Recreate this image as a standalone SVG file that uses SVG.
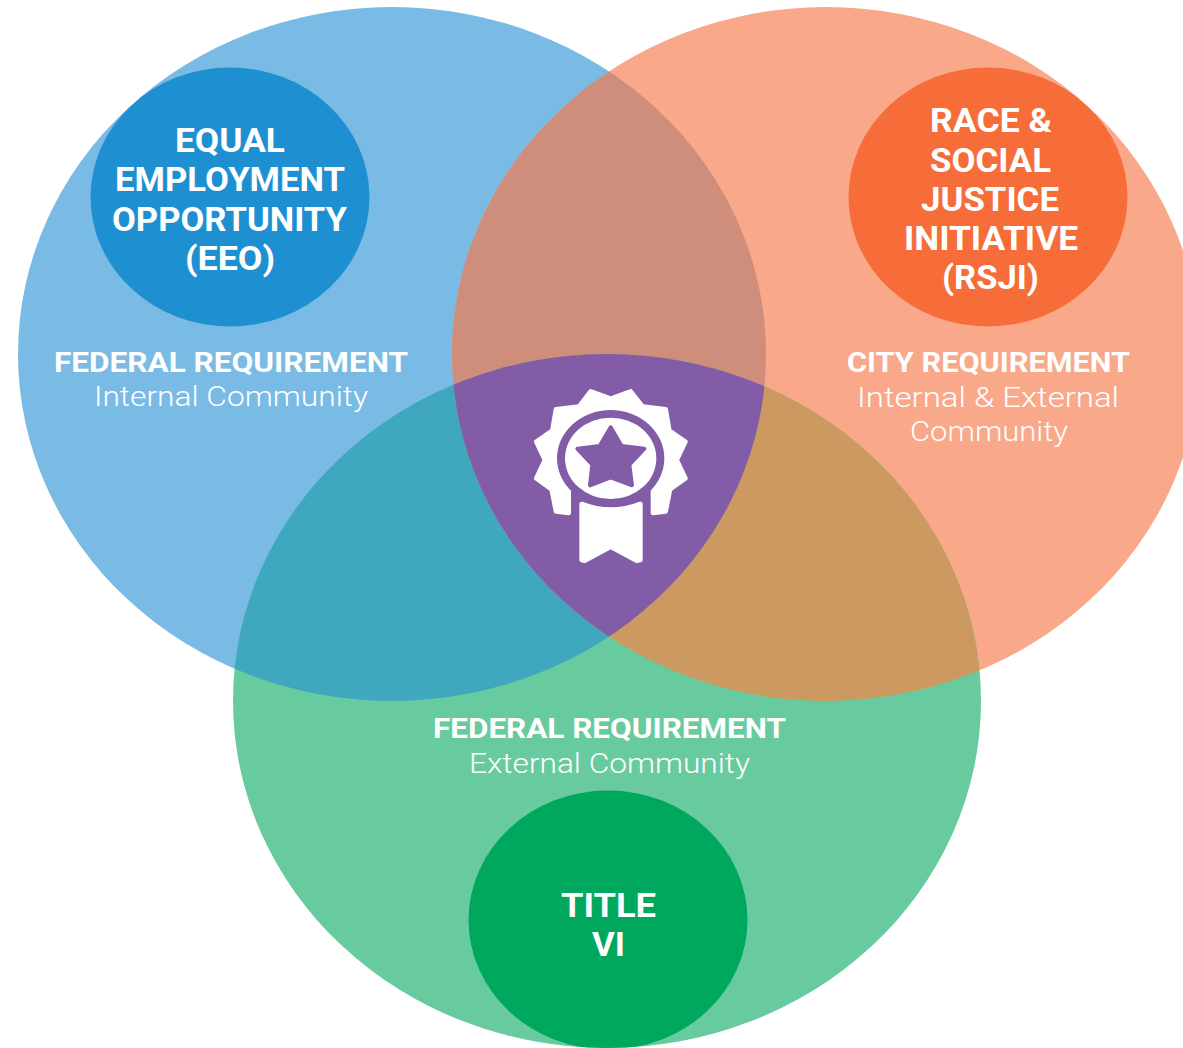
<svg xmlns="http://www.w3.org/2000/svg" width="1183" height="1048" viewBox="0 0 1183 1048">
  <style>
    .t { fill: #fff; text-anchor: start; font-family: Roboto, "Liberation Sans", sans-serif; }
    .h { font-size: 33px; font-weight: 700; }
    .r { font-size: 28px; font-weight: 700; }
    .c { font-size: 27px; font-weight: 300; }
    .p { fill: #825CA6; }
    .w { fill: #fff; stroke: #fff; stroke-width: 14; stroke-linejoin: round; }
  </style>
  <defs>
    <ellipse id="eL" cx="392" cy="354" rx="374" ry="347"/>
    <ellipse id="eR" cx="826" cy="354" rx="374" ry="347"/>
    <ellipse id="eB" cx="607" cy="701" rx="374" ry="347"/>
    <clipPath id="cL"><use href="#eL"/></clipPath>
    <clipPath id="cR"><use href="#eR"/></clipPath>
    <clipPath id="cB"><use href="#eB"/></clipPath>
  </defs>
  <rect width="1183" height="1048" fill="#fff"/>
  <g id="venn">
    <use href="#eL" fill="#79BBE4"/>
    <use href="#eR" fill="#F9A88A"/>
    <use href="#eB" fill="#68CBA0"/>
    <g clip-path="url(#cL)"><use href="#eR" fill="#CF8D7B"/></g>
    <g clip-path="url(#cL)"><use href="#eB" fill="#3FA8BE"/></g>
    <g clip-path="url(#cR)"><use href="#eB" fill="#CC9A60"/></g>
    <g clip-path="url(#cL)"><g clip-path="url(#cR)"><use href="#eB" fill="#825CA6"/></g></g>
  </g>
  <g id="eeo">
    <g clip-path="url(#cL)"><ellipse cx="230" cy="197" rx="139.5" ry="129.5" fill="#1E90D2"/></g>
    <text class="t h" x="175" y="152" textLength="110" lengthAdjust="spacingAndGlyphs">EQUAL</text>
    <text class="t h" x="115" y="191" textLength="230" lengthAdjust="spacingAndGlyphs">EMPLOYMENT</text>
    <text class="t h" x="112" y="231" textLength="235" lengthAdjust="spacingAndGlyphs">OPPORTUNITY</text>
    <text class="t h" x="185" y="270" textLength="90" lengthAdjust="spacingAndGlyphs">(EEO)</text>
    <text class="t r" x="54" y="372" textLength="354" lengthAdjust="spacingAndGlyphs">FEDERAL REQUIREMENT</text>
    <text class="t c" x="94" y="406" textLength="274" lengthAdjust="spacingAndGlyphs">Internal Community</text>
  </g>
  <g id="rsji">
    <g clip-path="url(#cR)"><ellipse cx="988" cy="197" rx="139.5" ry="129.5" fill="#F66D3A"/></g>
    <text class="t h" x="930" y="132" textLength="122" lengthAdjust="spacingAndGlyphs">RACE &amp;</text>
    <text class="t h" x="930" y="172" textLength="121" lengthAdjust="spacingAndGlyphs">SOCIAL</text>
    <text class="t h" x="921" y="211" textLength="138" lengthAdjust="spacingAndGlyphs">JUSTICE</text>
    <text class="t h" x="904" y="250" textLength="174" lengthAdjust="spacingAndGlyphs">INITIATIVE</text>
    <text class="t h" x="942" y="289" textLength="97" lengthAdjust="spacingAndGlyphs">(RSJI)</text>
    <text class="t r" x="847" y="372" textLength="283" lengthAdjust="spacingAndGlyphs">CITY REQUIREMENT</text>
    <text class="t c" x="857" y="407" textLength="262" lengthAdjust="spacingAndGlyphs">Internal &amp; External</text>
    <text class="t c" x="910" y="441" textLength="158" lengthAdjust="spacingAndGlyphs">Community</text>
  </g>
  <g id="title-vi">
    <g clip-path="url(#cB)"><ellipse cx="608" cy="920" rx="139.5" ry="129.5" fill="#00A85E"/></g>
    <text class="t r" x="433" y="738" textLength="353" lengthAdjust="spacingAndGlyphs">FEDERAL REQUIREMENT</text>
    <text class="t c" x="469" y="773" textLength="281" lengthAdjust="spacingAndGlyphs">External Community</text>
    <text class="t h" x="561" y="917" textLength="95" lengthAdjust="spacingAndGlyphs">TITLE</text>
    <text class="t h" x="592" y="956" textLength="33" lengthAdjust="spacingAndGlyphs">VI</text>
  </g>
  <g id="badge" transform="translate(500 370) scale(.33333)">
    <path class="w" d="M272,64 L332,86 L392,64 L428,110 L497,118 L508,182 L556,215 L530,270 L556,325 L510,358 L497,424 L459,429 L459,345 L206,345 L206,429 L168,424 L155,358 L109,325 L135,270 L109,215 L157,182 L168,118 L237,110 Z"/>
    <ellipse class="p" cx="332" cy="265" rx="161" ry="145"/>
    <ellipse cx="332" cy="265" rx="137" ry="122" fill="#fff"/>
    <path class="p" stroke="#825CA6" stroke-width="12" stroke-linejoin="round" d="M332,172 L365,228 L433,236 L388,284 L396,346 L332,322 L270,346 L277,284 L232,236 L299,228 Z"/>
    <path class="w" d="M245,402 Q332,436 421,402 L421,570 L410,572 L332,530 L254,572 L245,570 Z"/>
  </g>
</svg>
